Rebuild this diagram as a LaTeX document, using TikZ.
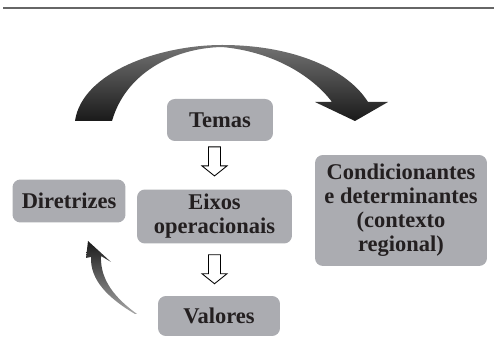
\documentclass[tikz,border=0pt]{standalone}
\usepackage{fontspec}
\setmainfont{Liberation Serif}
\definecolor{boxgray}{RGB}{171,172,177}
\definecolor{ink}{RGB}{35,31,32}
\tikzset{
  box/.style={fill=boxgray, rounded corners=4.5pt, inner sep=0pt, align=center, text=ink,
    font=\bfseries\fontsize{12.8}{13.6}\selectfont},
  downarrow/.pic={\draw[fill=white, line width=0.5pt] (-6,-14.5) -- (6,-14.5) -- (6,4.5) -- (12.5,4.5) -- (0,14.5) -- (-12.5,4.5) -- (-6,4.5) -- cycle;}
}
\begin{document}
\begin{tikzpicture}[x=0.02cm, y=-0.02cm]
    \useasboundingbox (0,0) rectangle (494,337);
    \draw[color=black!60, line width=1.1pt] (3,8) -- (494,8);
    \node[box, minimum width=2.12cm, minimum height=0.84cm] (temas) at (220,120) {Temas};
    \node[box, minimum width=3.1cm, minimum height=1.08cm] (eixos) at (214.5,216.5) {Eixos\\operacionais};
    \node[box, minimum width=2.26cm, minimum height=0.86cm] (diretrizes) at (69,201) {Diretrizes};
    \node[box, minimum width=2.44cm, minimum height=0.8cm] (valores) at (219,316) {Valores};
    \node[box, minimum width=3.44cm, minimum height=2.22cm] (condic) at (401,210.5) {Condicionantes\\e determinantes\\(contexto\\regional)};
    \path (temas.south -| eixos.north) -- (eixos.north) pic[pos=0.42] {downarrow};
    \path (eixos.south) -- (valores.north -| eixos.south) pic[pos=0.49] {downarrow};
    % big curved arrow
    \shade[top color=black!55, bottom color=black!90] (75,121) .. controls (82,72) and (160,45) .. (222,45)
      .. controls (295,45) and (348,70) .. (368,102) -- (388,102) -- (355,121) -- (315,102) -- (332,102)
      .. controls (314,78) and (276,52) .. (222,47) .. controls (175,48) and (126,72) .. (112,121) -- cycle;
    % small curved arrow
    \shade[top color=black!90, bottom color=black!35] (137,314) .. controls (115,298) and (100,280) .. (101,256)
      -- (111,262) -- (88,241) -- (86,258) -- (91,257) .. controls (90,280) and (108,298) .. (135,314) -- cycle;
\end{tikzpicture}
\end{document}
